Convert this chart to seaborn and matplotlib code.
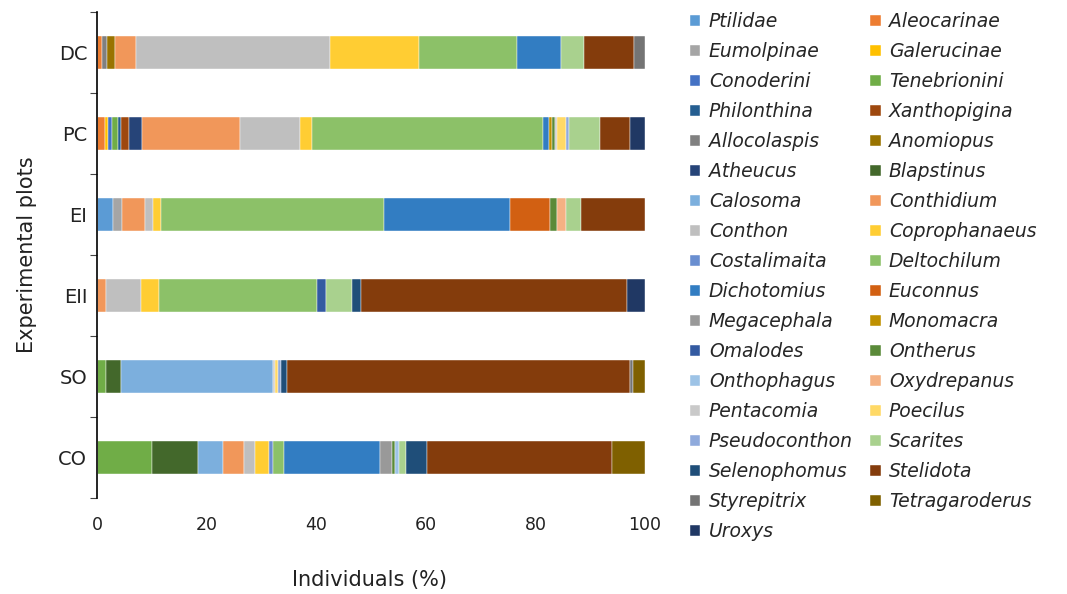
import pandas as pd
import matplotlib.pyplot as plt
import seaborn as sns

# plots, bottom to top as drawn
plots = ['CO', 'SO', 'EII', 'EI', 'PC', 'DC']

taxa = ['Ptilidae', 'Aleocarinae', 'Eumolpinae', 'Galerucinae', 'Conoderini', 'Tenebrionini',
        'Philonthina', 'Xanthopigina', 'Allocolaspis', 'Anomiopus', 'Atheucus', 'Blapstinus',
        'Calosoma', 'Conthidium', 'Conthon', 'Coprophanaeus', 'Costalimaita', 'Deltochilum',
        'Dichotomius', 'Euconnus', 'Megacephala', 'Monomacra', 'Omalodes', 'Ontherus',
        'Onthophagus', 'Oxydrepanus', 'Pentacomia', 'Poecilus', 'Pseudoconthon', 'Scarites',
        'Selenophomus', 'Stelidota', 'Styrepitrix', 'Tetragaroderus', 'Uroxys']

colors = ['#5B9BD5', '#ED7D31', '#A5A5A5', '#FFC000', '#4472C4', '#70AD47',
          '#255E91', '#9E480E', '#808080', '#997300', '#264478', '#43682B',
          '#7CAFDD', '#F1975A', '#BFBFBF', '#FFCD33', '#698ED0', '#8CC168',
          '#327DC2', '#D26012', '#999999', '#BF9000', '#335AA1', '#5A8A39',
          '#9DC3E6', '#F4B183', '#C9C9C9', '#FFD966', '#8FAADC', '#A9D18E',
          '#1F4E79', '#843C0C', '#747474', '#7F6000', '#203864']

# percentage of individuals per plot
dc = {'Aleocarinae': 1.0, 'Allocolaspis': 0.9, 'Anomiopus': 1.3, 'Conthidium': 4.0,
      'Conthon': 35.3, 'Coprophanaeus': 16.2, 'Deltochilum': 18.0, 'Dichotomius': 8.0,
      'Scarites': 4.1, 'Stelidota': 9.2, 'Styrepitrix': 2.0}
pc = {'Aleocarinae': 1.5, 'Galerucinae': 0.6, 'Conoderini': 0.7, 'Tenebrionini': 1.0,
      'Philonthina': 0.5, 'Xanthopigina': 1.6, 'Atheucus': 2.3, 'Conthidium': 17.9,
      'Conthon': 11.0, 'Coprophanaeus': 2.1, 'Deltochilum': 42.2, 'Dichotomius': 1.0,
      'Monomacra': 0.6, 'Ontherus': 0.5, 'Pentacomia': 0.5, 'Poecilus': 1.5,
      'Pseudoconthon': 0.7, 'Scarites': 5.6, 'Stelidota': 5.4, 'Uroxys': 2.8}
ei = {'Ptilidae': 2.9, 'Eumolpinae': 1.6, 'Conthidium': 4.3, 'Conthon': 1.4,
      'Coprophanaeus': 1.5, 'Deltochilum': 40.6, 'Dichotomius': 23.1, 'Euconnus': 7.2,
      'Ontherus': 1.3, 'Oxydrepanus': 1.6, 'Scarites': 2.9, 'Stelidota': 11.6}
eii = {'Conthidium': 1.6, 'Conthon': 6.5, 'Coprophanaeus': 3.3, 'Deltochilum': 28.8,
       'Omalodes': 1.6, 'Scarites': 4.8, 'Selenophomus': 1.6, 'Stelidota': 48.5,
       'Uroxys': 3.3}
so = {'Tenebrionini': 1.7, 'Blapstinus': 2.7, 'Calosoma': 27.7, 'Pentacomia': 0.4,
      'Poecilus': 0.6, 'Pseudoconthon': 0.5, 'Selenophomus': 1.1, 'Stelidota': 62.5,
      'Styrepitrix': 0.7, 'Tetragaroderus': 2.1}
co = {'Tenebrionini': 10.0, 'Blapstinus': 8.4, 'Calosoma': 4.6, 'Conthidium': 3.8,
      'Conthon': 2.1, 'Coprophanaeus': 2.5, 'Costalimaita': 0.7, 'Deltochilum': 2.0,
      'Dichotomius': 17.6, 'Megacephala': 2.2, 'Ontherus': 0.4, 'Onthophagus': 0.8,
      'Scarites': 1.3, 'Selenophomus': 3.8, 'Stelidota': 33.8, 'Tetragaroderus': 6.0}

df = pd.DataFrame([co, so, eii, ei, pc, dc], index=plots).reindex(columns=taxa).fillna(0)

sns.set_theme(style="white")
plt.rcParams['font.family'] = ['DejaVu Sans']

fig = plt.figure(figsize=(10.67, 5.94), dpi=100)
ax = fig.add_axes([0.0909, 0.1616, 0.5136, 0.8182])

df.plot(kind='barh', stacked=True, color=colors, width=0.4, ax=ax,
        edgecolor='white', linewidth=0.3, legend=False)

ax.set_xlim(0, 100)
ax.set_ylim(-0.5, len(plots) - 0.5)
ax.set_xticks(range(0, 101, 20))
ax.tick_params(axis='x', labelsize=12.5, length=0, pad=13, colors='#222222')
ax.tick_params(axis='y', which='major', labelsize=14, length=0, pad=7, colors='#222222')
ax.set_yticks([i - 0.5 for i in range(len(plots) + 1)], minor=True)
ax.tick_params(axis='y', which='minor', length=5, width=0.8, direction='out', left=True, color='#444444')

for s in ['top', 'right', 'bottom']:
    ax.spines[s].set_visible(False)
ax.spines['left'].set_color('black')
ax.spines['left'].set_linewidth(1.2)

ax.set_xlabel('Individuals (%)', fontsize=15, color='#222222')
ax.xaxis.set_label_coords(0.498, -0.148)
ax.set_ylabel('Experimental plots', fontsize=15, color='#222222')
ax.yaxis.set_label_coords(-0.11, 0.5)

# legend laid out row by row, two columns
handles, labels = ax.get_legend_handles_labels()
order = list(range(0, len(taxa), 2)) + list(range(1, len(taxa), 2))
fig.legend([handles[i] for i in order], [labels[i] for i in order],
           loc='upper left', bbox_to_anchor=(0.6467, 0.979), ncol=2, frameon=False,
           borderaxespad=0, borderpad=0,
           prop={'style': 'italic', 'size': 13.5}, handlelength=0.55, handleheight=0.55,
           handletextpad=0.45, labelspacing=0.585, columnspacing=0.93)

plt.savefig('out.png', dpi=100)
